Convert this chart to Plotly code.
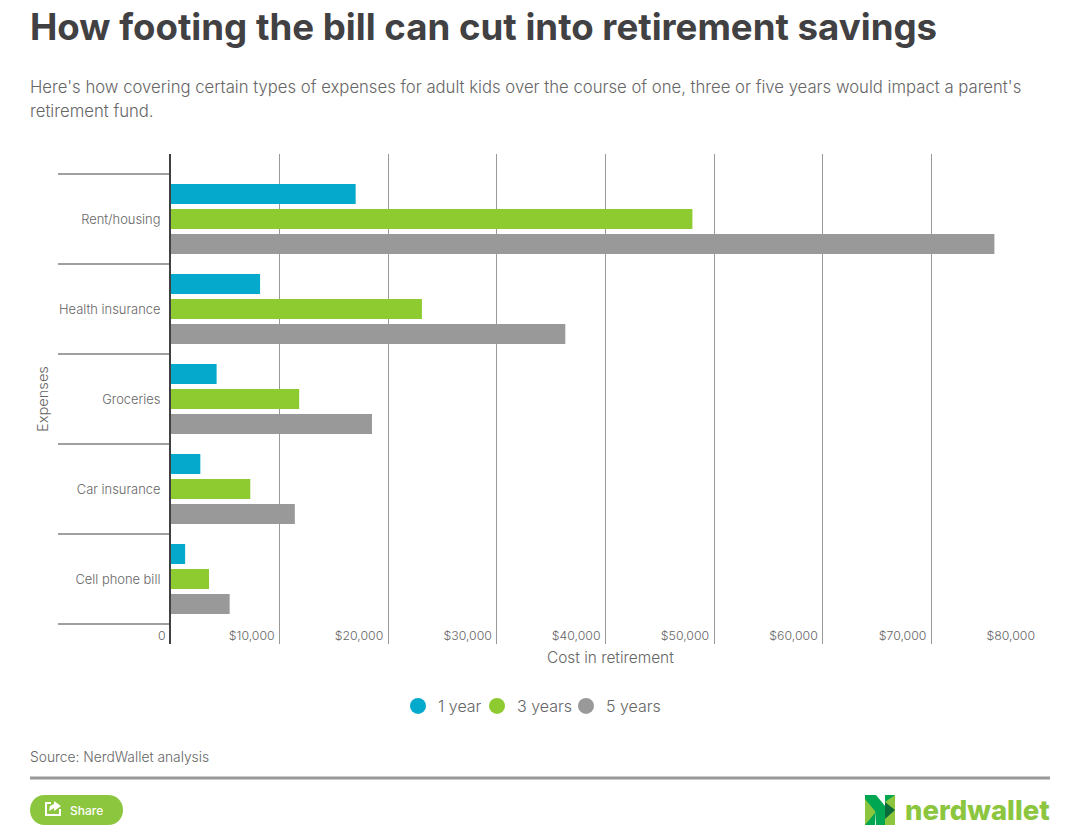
import plotly.graph_objects as go

categories = ["Rent/housing", "Health insurance", "Groceries", "Car insurance", "Cell phone bill"]
one_year = [17000, 8200, 4200, 2700, 1300]
three_years = [48000, 23100, 11800, 7300, 3500]
five_years = [75800, 36300, 18500, 11400, 5400]
tick_vals = [10000, 20000, 30000, 40000, 50000, 60000, 70000, 80000]
tick_text = ["$10,000", "$20,000", "$30,000", "$40,000", "$50,000", "$60,000", "$70,000", "$80,000"]
series = [("1 year", one_year, "#05A9CB"), ("3 years", three_years, "#8DCB30"), ("5 years", five_years, "#999999")]
legend_left = [398, 477, 566]

W, H = 1069, 837
FONT = "Inter"
TXT = "#666666"
DARK = "#414042"

def px(x): return x / W
def py(y): return 1 - y / H

fig = go.Figure()
for name, vals, color in series:
    fig.add_trace(go.Bar(y=categories, x=vals, name=name, orientation="h", marker=dict(color=color, line_width=0),
                         showlegend=False, legendgroup=name))
legend_ids = ["legend", "legend2", "legend3"]
for (name, vals, color), lid in zip(series, legend_ids):
    fig.add_trace(go.Scatter(x=[None], y=[None], mode="markers", name=name, legendgroup=name, legend=lid,
                             marker=dict(color=color, size=17, symbol="circle")))

def poly(pts, color):
    path = "M" + " L".join(f"{px(x):.5f},{py(y):.5f}" for x, y in pts) + " Z"
    return dict(type="path", xref="paper", yref="paper", path=path, fillcolor=color, line_width=0, layer="above")

shapes = []
# category separators
for i in range(len(categories) + 1):
    shapes.append(dict(type="line", xref="paper", yref="y", x0=px(58), x1=px(171), y0=i - 0.5, y1=i - 0.5,
                       line=dict(color=DARK, width=1)))
# footer rule
shapes.append(dict(type="line", xref="paper", yref="paper", x0=px(30), x1=px(1050), y0=py(778), y1=py(778),
                   line=dict(color="#999999", width=3)))
# share pill
def P(x, y): return f"{px(x):.5f},{py(y):.5f}"
shapes.append(dict(type="path", xref="paper", yref="paper", layer="above", fillcolor="#8CC63F", line_width=0,
                   path=f"M{P(45,795)} L{P(108,795)} C{P(128,795)} {P(128,825)} {P(108,825)} L{P(45,825)} C{P(25,825)} {P(25,795)} {P(45,795)} Z"))
# share icon
shapes.append(dict(type="path", xref="paper", yref="paper",
                   path=f"M{P(51,803)} L{P(46,803)} L{P(46,815)} L{P(60,815)} L{P(60,809)}",
                   line=dict(color="white", width=2), layer="above"))
shapes.append(poly([(54, 801), (61, 806), (54, 811), (54, 808), (49, 811), (50, 806), (54, 804)], "white"))
# logo mark
shapes.append(poly([(865, 795), (875, 795), (875, 825), (865, 825)], "#8CC63F"))
shapes.append(poly([(885, 795), (895, 795), (895, 825), (885, 825)], "#8CC63F"))
shapes.append(poly([(865, 795), (876, 795), (885, 806), (885, 825), (876, 825), (875, 811), (865, 799)], "#00A651"))
shapes.append(poly([(885, 802), (895, 810), (885, 819)], "#0B6B3A"))
shapes.append(poly([(865, 825), (875, 813), (875, 825)], "#00A651"))
shapes.append(poly([(885, 795), (895, 795), (885, 802)], "#00A651"))

def note(x, y, text, size, color=TXT, anchor="left", weight=None, family=FONT):
    return dict(x=px(x), y=py(y), xref="paper", yref="paper", text=text, showarrow=False, xanchor=anchor, yanchor="middle",
                align="left", font=dict(size=size, color=color, family=family, weight=weight))

annotations = [
    note(28, 26, "How footing the bill can cut into retirement savings", 36.65, color="#414042", weight=700),
    note(28, 87, "Here's how covering certain types of expenses for adult kids over the course of one, three or five years would impact a parent's", 16.7, weight=300),
    note(28, 111, "retirement fund.", 16.7, weight=300),
    note(28, 757, "Source: NerdWallet analysis", 13.8, weight=300),
    note(68, 810, "Share", 12, color="white", weight=500),
    note(1052, 810, "nerdwallet", 27.5, color="#8CC63F", anchor="right", weight=800),
    note(168, 635, "0", 12.3, anchor="right", weight=300),
    note(610, 657, "Cost in retirement", 15.4, anchor="center", weight=300),
]

legends = {}
for lid, left in zip(legend_ids, legend_left):
    legends[lid] = dict(x=px(left), xanchor="left", y=py(706), yanchor="middle",
                        font=dict(size=16, color=TXT, family=FONT, weight=300), itemsizing="trace", itemwidth=30,
                        bgcolor="rgba(0,0,0,0)")

fig.update_layout(
    width=W, height=H, margin=dict(l=0, r=0, t=0, b=0), autosize=False,
    paper_bgcolor="white", plot_bgcolor="white",
    font=dict(family=FONT, color=TXT, size=12),
    barmode="group", bargap=15 / 90, bargroupgap=0.2,
    shapes=shapes, annotations=annotations, **legends,
    xaxis=dict(domain=[px(171), px(1040)], range=[0, 80000], tickvals=tick_vals, ticktext=tick_text,
               ticklabelposition="inside left", ticklabelshift=-5, ticklabelstandoff=-4,
               showgrid=True, gridcolor="#999999", gridwidth=1,
               zeroline=False, showline=False, ticks="", tickfont=dict(size=12.3, color=TXT, weight=300),
               automargin=False, anchor="y"),
    yaxis=dict(domain=[py(644), py(154)], range=[4.5 + 20 / 90, -0.5 - 20 / 90], categoryorder="array", categoryarray=categories,
               showgrid=False, zeroline=False, showline=True, linecolor=DARK, linewidth=2, ticks="outside", ticklen=6, tickcolor="rgba(0,0,0,0)",
               tickfont=dict(size=12.9, color=TXT, weight=300),
               title=dict(text="Expenses", font=dict(size=14.6, color=TXT, weight=300), standoff=7),
               automargin=False, anchor="x"),
)

fig.write_html("out.html", config=dict(displayModeBar=False),
               post_script="document.body.style.margin='0';document.body.style.overflow='hidden';")
